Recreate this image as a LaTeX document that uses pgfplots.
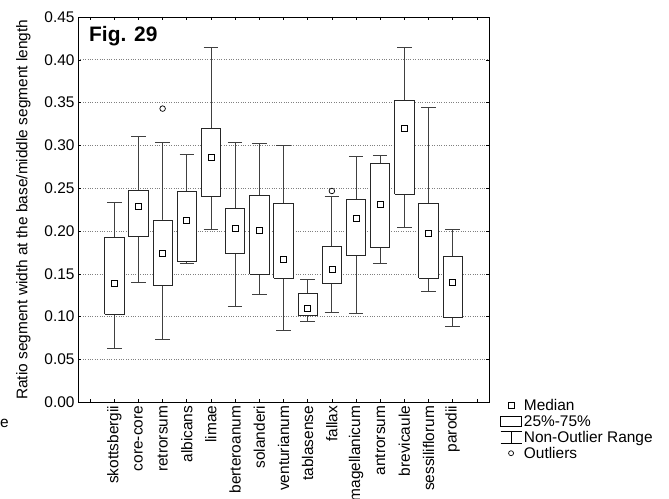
\documentclass[border=0pt]{standalone}
\usepackage{fontspec}
\setmainfont{Liberation Sans}
\usepackage{pgfplots}
\pgfplotsset{compat=1.18}
\begin{document}
\begin{tikzpicture}[x=1bp,y=1bp]
\begin{axis}[
  at={(78bp,96.7bp)}, anchor=south west,
  scale only axis, width=411bp, height=385.3bp,
  xmin=-0.5, xmax=16.5, ymin=0, ymax=0.45,
  xtick={0,1,2,3,4,5,6,7,8,9,10,11,12,13,14,15,16},
  xticklabels={{},skottsbergii,core-core,retrorsum,albicans,limae,berteroanum,solanderi,venturianum,tablasense,fallax,magellanicum,antrorsum,brevicaule,sessiliflorum,parodii,{}},
  ytick={0,0.05,0.1,0.15,0.2,0.25,0.3,0.35,0.4,0.45},
  x tick label style={rotate=90, anchor=east},
  /pgf/number format/assume math mode=true,
  y tick label style={/pgf/number format/.cd, fixed, fixed zerofill, precision=2, /tikz/.cd},
  tick align=inside, major tick length=3bp,
  tick style={black, line width=0.6bp},
  axis line style={black, line width=0.8bp},
  ymajorgrids, grid style={dotted, gray, line width=0.7bp},
  font=\fontsize{15.5}{18}\selectfont,
  ylabel={Ratio segment width at the base/middle segment length},
  ylabel style={at={(axis description cs:-0.133,0.5)}, anchor=center},
  unbounded coords=jump,
  bx/.style={black!85, line width=0.8bp, fill=white, mark=none},
  wh/.style={black!75, line width=0.8bp, mark=none},
  legend style={at={(axis description cs:1.0195,0.016)}, anchor=north west, draw=none, fill=none, row sep=1.3bp, column sep=1bp, nodes={inner sep=1bp}, font=\fontsize{15.5}{16}\selectfont},
  legend cell align=left,
]
\addlegendimage{legend image code/.code={\draw[black, line width=0.7bp] (7.5bp,-3bp) rectangle (13.5bp,3bp);}}
\addlegendentry{Median}
\addlegendimage{legend image code/.code={\draw[black, line width=0.7bp] (0bp,-5bp) rectangle (21bp,5bp);}}
\addlegendentry{25\%-75\%}
\addlegendimage{legend image code/.code={\draw[black, line width=0.7bp] (0bp,6bp) -- (21bp,6bp) (10.5bp,6bp) -- (10.5bp,-6bp) (0bp,-6bp) -- (21bp,-6bp);}}
\addlegendentry{Non-Outlier Range}
\addlegendimage{legend image code/.code={\draw[black, line width=0.7bp] (10.5bp,0bp) circle (2.5bp);}}
\addlegendentry{Outliers}

% whiskers: (pos,uq)-(pos,uw), cap at uw; (pos,lq)-(pos,lw), cap at lw
\addplot[wh] coordinates {(1,0.193) (1,0.233) (1,nan) (0.7,0.233) (1.3,0.233) (1,nan) (1,0.103) (1,0.0634) (1,nan) (0.7,0.0634) (1.3,0.0634)};
\addplot[wh] coordinates {(2,0.2476) (2,0.310) (2,nan) (1.7,0.310) (2.3,0.310) (2,nan) (2,0.1934) (2,0.140) (2,nan) (1.7,0.140) (2.3,0.140)};
\addplot[wh] coordinates {(3,0.213) (3,0.304) (3,nan) (2.7,0.304) (3.3,0.304) (3,nan) (3,0.137) (3,0.0735) (3,nan) (2.7,0.0735) (3.3,0.0735)};
\addplot[wh] coordinates {(4,0.246) (4,0.290) (4,nan) (3.7,0.290) (4.3,0.290) (4,nan) (4,0.165) (4,0.162) (4,nan) (3.7,0.162) (4.3,0.162)};
\addplot[wh] coordinates {(5,0.320) (5,0.415) (5,nan) (4.7,0.415) (5.3,0.415) (5,nan) (5,0.240) (5,0.202) (5,nan) (4.7,0.202) (5.3,0.202)};
\addplot[wh] coordinates {(6,0.2266) (6,0.304) (6,nan) (5.7,0.304) (6.3,0.304) (6,nan) (6,0.174) (6,0.1117) (6,nan) (5.7,0.1117) (6.3,0.1117)};
\addplot[wh] coordinates {(7,0.2413) (7,0.3025) (7,nan) (6.7,0.3025) (7.3,0.3025) (7,nan) (7,0.1495) (7,0.126) (7,nan) (6.7,0.126) (7.3,0.126)};
\addplot[wh] coordinates {(8,0.2324) (8,0.2997) (8,nan) (7.7,0.2997) (8.3,0.2997) (8,nan) (8,0.145) (8,0.0844) (8,nan) (7.7,0.0844) (8.3,0.0844)};
\addplot[wh] coordinates {(9,0.1273) (9,0.1436) (9,nan) (8.7,0.1436) (9.3,0.1436) (9,nan) (9,0.1016) (9,0.095) (9,nan) (8.7,0.095) (9.3,0.095)};
\addplot[wh] coordinates {(10,0.1817) (10,0.240) (10,nan) (9.7,0.240) (10.3,0.240) (10,nan) (10,0.139) (10,0.1047) (10,nan) (9.7,0.1047) (10.3,0.1047)};
\addplot[wh] coordinates {(11,0.237) (11,0.2873) (11,nan) (10.7,0.2873) (11.3,0.2873) (11,nan) (11,0.172) (11,0.104) (11,nan) (10.7,0.104) (11.3,0.104)};
\addplot[wh] coordinates {(12,0.279) (12,0.2888) (12,nan) (11.7,0.2888) (12.3,0.2888) (12,nan) (12,0.1805) (12,0.162) (12,nan) (11.7,0.162) (12.3,0.162)};
\addplot[wh] coordinates {(13,0.3527) (13,0.415) (13,nan) (12.7,0.415) (13.3,0.415) (13,nan) (13,0.2429) (13,0.2047) (13,nan) (12.7,0.2047) (13.3,0.2047)};
\addplot[wh] coordinates {(14,0.232) (14,0.3449) (14,nan) (13.7,0.3449) (14.3,0.3449) (14,nan) (14,0.1448) (14,0.130) (14,nan) (13.7,0.130) (14.3,0.130)};
\addplot[wh] coordinates {(15,0.170) (15,0.2024) (15,nan) (14.7,0.2024) (15.3,0.2024) (15,nan) (15,0.0996) (15,0.0888) (15,nan) (14.7,0.0888) (15.3,0.0888)};

% boxes: lower quartile to upper quartile
\addplot[bx] coordinates {(0.6,0.103) (1.4,0.103) (1.4,0.193) (0.6,0.193) (0.6,0.103)};
\addplot[bx] coordinates {(1.6,0.1934) (2.4,0.1934) (2.4,0.2476) (1.6,0.2476) (1.6,0.1934)};
\addplot[bx] coordinates {(2.6,0.137) (3.4,0.137) (3.4,0.213) (2.6,0.213) (2.6,0.137)};
\addplot[bx] coordinates {(3.6,0.165) (4.4,0.165) (4.4,0.246) (3.6,0.246) (3.6,0.165)};
\addplot[bx] coordinates {(4.6,0.240) (5.4,0.240) (5.4,0.320) (4.6,0.320) (4.6,0.240)};
\addplot[bx] coordinates {(5.6,0.174) (6.4,0.174) (6.4,0.2266) (5.6,0.2266) (5.6,0.174)};
\addplot[bx] coordinates {(6.6,0.1495) (7.4,0.1495) (7.4,0.2413) (6.6,0.2413) (6.6,0.1495)};
\addplot[bx] coordinates {(7.6,0.145) (8.4,0.145) (8.4,0.2324) (7.6,0.2324) (7.6,0.145)};
\addplot[bx] coordinates {(8.6,0.1016) (9.4,0.1016) (9.4,0.1273) (8.6,0.1273) (8.6,0.1016)};
\addplot[bx] coordinates {(9.6,0.139) (10.4,0.139) (10.4,0.1817) (9.6,0.1817) (9.6,0.139)};
\addplot[bx] coordinates {(10.6,0.172) (11.4,0.172) (11.4,0.237) (10.6,0.237) (10.6,0.172)};
\addplot[bx] coordinates {(11.6,0.1805) (12.4,0.1805) (12.4,0.279) (11.6,0.279) (11.6,0.1805)};
\addplot[bx] coordinates {(12.6,0.2429) (13.4,0.2429) (13.4,0.3527) (12.6,0.3527) (12.6,0.2429)};
\addplot[bx] coordinates {(13.6,0.1448) (14.4,0.1448) (14.4,0.232) (13.6,0.232) (13.6,0.1448)};
\addplot[bx] coordinates {(14.6,0.0996) (15.4,0.0996) (15.4,0.170) (14.6,0.170) (14.6,0.0996)};

% medians
\addplot[only marks, mark=square, mark size=3bp, black, mark options={line width=0.7bp}] coordinates {
(1,0.139) (2,0.2285) (3,0.174) (4,0.212) (5,0.2865) (6,0.203) (7,0.201) (8,0.167) (9,0.110) (10,0.1557) (11,0.2152) (12,0.2312) (13,0.3195) (14,0.1974) (15,0.1405)};
% outliers
\addplot[only marks, mark=o, mark size=2.8bp, black, mark options={line width=0.7bp}] coordinates {(3,0.343) (10,0.2468)};
\end{axis}
\node[anchor=base west, inner sep=0pt, font=\bfseries\fontsize{21}{24}\selectfont] at (89,457.3) {Fig. 29};
\node[anchor=base west, inner sep=0pt, font=\fontsize{15.5}{18}\selectfont] at (0,71) {e};
\pgfresetboundingbox
\useasboundingbox (0,0) rectangle (669,499);
\end{tikzpicture}
\end{document}
